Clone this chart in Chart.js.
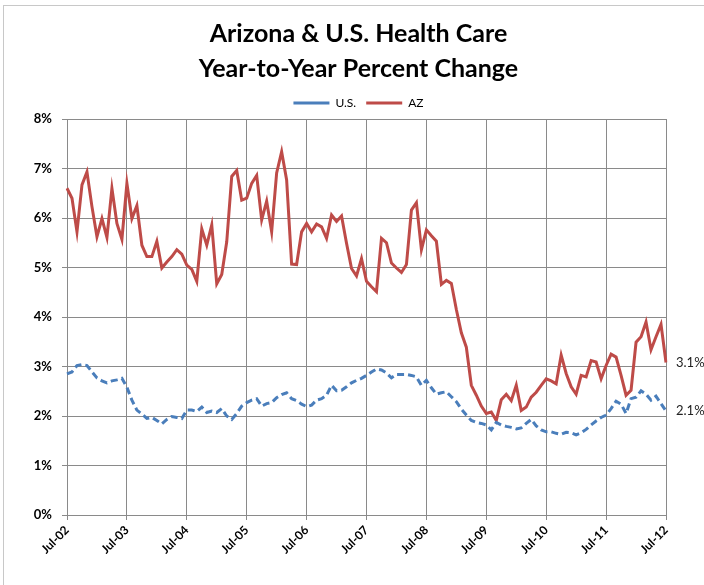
<!DOCTYPE html>
<html>
<head>
<meta charset="utf-8">
<script src="https://cdn.jsdelivr.net/npm/chart.js@4"></script>
<style>
  html, body { margin: 0; padding: 0; background: #fff; overflow: hidden; }
  #box {
    position: absolute; left: 3px; top: 5px;
    width: 730px; height: 580px;
    border-left: 1px solid #c8c8c8; border-top: 1px solid #c8c8c8;
  }
</style>
</head>
<body>
<div id="box"><canvas id="healthChart" width="730" height="580"></canvas></div>
<script>
/*
  Arizona & U.S. health care, year-to-year % change, monthly Jul-02 .. Jul-12
*/

// tick labels on the x axis (one per July)
const yearTicks = ["Jul-02", "Jul-03", "Jul-04", "Jul-05", "Jul-06", "Jul-07",
                   "Jul-08", "Jul-09", "Jul-10", "Jul-11", "Jul-12"];

const monthNames = ["Jul", "Aug", "Sep", "Oct", "Nov", "Dec",
                    "Jan", "Feb", "Mar", "Apr", "May", "Jun"];

// U.S. values (%)
const usValues = [
  2.85, 2.89, 3.02, 3.04, 3.02, 2.89, 2.77, 2.71, 2.67, 2.71, 2.73, 2.76,
  2.58, 2.32, 2.12, 2.04, 1.95, 1.97, 1.91, 1.84, 1.93, 1.99, 1.97, 1.95,
  2.12, 2.12, 2.09, 2.18, 2.07, 2.10, 2.07, 2.15, 2.00, 1.93, 2.05, 2.20,
  2.27, 2.32, 2.35, 2.20, 2.25, 2.27, 2.37, 2.43, 2.47, 2.35, 2.31, 2.24,
  2.19, 2.22, 2.32, 2.35, 2.42, 2.62, 2.51, 2.52, 2.59, 2.67, 2.72, 2.76,
  2.82, 2.89, 2.95, 2.93, 2.87, 2.77, 2.84, 2.84, 2.84, 2.82, 2.79, 2.62,
  2.72, 2.57, 2.44, 2.47, 2.49, 2.39, 2.29, 2.14, 2.02, 1.91, 1.87, 1.85,
  1.82, 1.72, 1.87, 1.82, 1.79, 1.77, 1.74, 1.76, 1.85, 1.93, 1.80, 1.72,
  1.68, 1.68, 1.65, 1.63, 1.67, 1.66, 1.62, 1.66, 1.73, 1.82, 1.90, 1.97,
  2.02, 2.15, 2.30, 2.24, 2.05, 2.35, 2.38, 2.51, 2.44, 2.32, 2.40, 2.25,
  2.10
];

// Arizona values (%)
const azValues = [
  6.60, 6.40, 5.72, 6.67, 6.93, 6.23, 5.62, 5.99, 5.61, 6.60, 5.89, 5.57,
  6.70, 5.99, 6.25, 5.45, 5.22, 5.22, 5.53, 4.99, 5.11, 5.22, 5.36, 5.27,
  5.05, 4.96, 4.72, 5.78, 5.45, 5.86, 4.67, 4.86, 5.52, 6.84, 6.96, 6.36,
  6.40, 6.70, 6.86, 5.96, 6.34, 5.72, 6.91, 7.34, 6.77, 5.07, 5.06, 5.72,
  5.89, 5.72, 5.88, 5.82, 5.59, 6.06, 5.93, 6.04, 5.49, 4.98, 4.83, 5.18,
  4.72, 4.61, 4.51, 5.59, 5.50, 5.09, 4.99, 4.90, 5.06, 6.16, 6.31, 5.36,
  5.76, 5.64, 5.53, 4.66, 4.74, 4.68, 4.15, 3.68, 3.39, 2.62, 2.42, 2.20,
  2.05, 2.08, 1.91, 2.33, 2.44, 2.31, 2.62, 2.11, 2.18, 2.38, 2.48, 2.62,
  2.75, 2.71, 2.65, 3.23, 2.86, 2.59, 2.44, 2.82, 2.79, 3.12, 3.09, 2.75,
  3.02, 3.25, 3.19, 2.82, 2.42, 2.52, 3.49, 3.60, 3.90, 3.34, 3.60, 3.85,
  3.08
];

// monthly category labels built from the year ticks
let monthLabels = [];
for (let i = 0; i < usValues.length; i++) {
  const yr = parseInt(yearTicks[0].slice(4), 10) + Math.floor((i + 6) / 12);
  monthLabels.push(monthNames[i % 12] + "-" + String(yr).padStart(2, "0"));
}

const fontFam = "Lato, 'Open Sans', sans-serif";
const gridGray = "#8a8a8a";

// value labels at the right end of each line
const endLabels = {
  id: "endLabels",
  afterDatasetsDraw(chart) {
    const ctx = chart.ctx;
    ctx.save();
    ctx.font = "13px " + fontFam;
    ctx.fillStyle = "#222";
    ctx.textBaseline = "middle";
    ctx.textAlign = "left";
    chart.data.datasets.forEach(function (ds, i) {
      const pts = chart.getDatasetMeta(i).data;
      const last = pts[pts.length - 1];
      const v = ds.data[ds.data.length - 1];
      ctx.fillText(v.toFixed(1) + "%", last.x + 10, last.y);
    });
    ctx.restore();
  }
};

// title and legend sit a little right of the plot centre
const shiftHeader = {
  id: "shiftHeader",
  afterLayout(chart) {
    [chart.titleBlock, chart.legend].forEach(function (b) {
      b.left += 12;
      b.right += 12;
    });
  }
};

new Chart(document.getElementById("healthChart"), {
  type: "line",
  data: {
    labels: monthLabels,
    datasets: [
      {
        label: "U.S.",
        data: usValues,
        borderColor: "#4a7ebb",
        backgroundColor: "#4a7ebb",
        borderWidth: 3,
        borderDash: [7, 4],
        pointRadius: 0,
        tension: 0
      },
      {
        label: "AZ",
        data: azValues,
        borderColor: "#be4b48",
        backgroundColor: "#be4b48",
        borderWidth: 3,
        pointRadius: 0,
        tension: 0
      }
    ]
  },
  options: {
    responsive: false,
    animation: false,
    layout: { padding: { left: 23, right: 68, top: 10, bottom: 12 } },
    plugins: {
      title: {
        display: true,
        text: ["Arizona & U.S. Health Care", "Year-to-Year Percent Change"],
        color: "#000",
        font: { family: fontFam, size: 25, weight: "bold", lineHeight: 1.4 },
        padding: { top: 0, bottom: 1 }
      },
      legend: {
        display: true,
        position: "top",
        labels: {
          usePointStyle: true,
          pointStyle: "line",
          pointStyleWidth: 36,
          color: "#000",
          padding: 10,
          font: { family: fontFam, size: 12 }
        }
      },
      tooltip: { enabled: false }
    },
    scales: {
      x: {
        afterFit: function (scale) { scale.height = 59; },
        grid: {
          color: function (c) { return c.index % 12 === 0 ? gridGray : "transparent"; },
          tickLength: 5
        },
        border: { color: gridGray },
        ticks: {
          autoSkip: false,
          maxRotation: 45,
          minRotation: 45,
          color: "#000",
          font: { family: fontFam, size: 12, weight: "bold" },
          callback: function (val, idx) {
            return idx % 12 === 0 ? yearTicks[idx / 12] : "";
          }
        }
      },
      y: {
        min: 0,
        max: 8,
        afterFit: function (scale) { scale.width = 40; },
        grid: { color: gridGray, tickLength: 5 },
        border: { color: gridGray },
        ticks: {
          stepSize: 1,
          padding: 10,
          color: "#000",
          font: { family: fontFam, size: 13, weight: "bold" },
          callback: function (v) { return v + "%"; }
        }
      }
    }
  },
  plugins: [endLabels, shiftHeader]
});
</script>
</body>
</html>
